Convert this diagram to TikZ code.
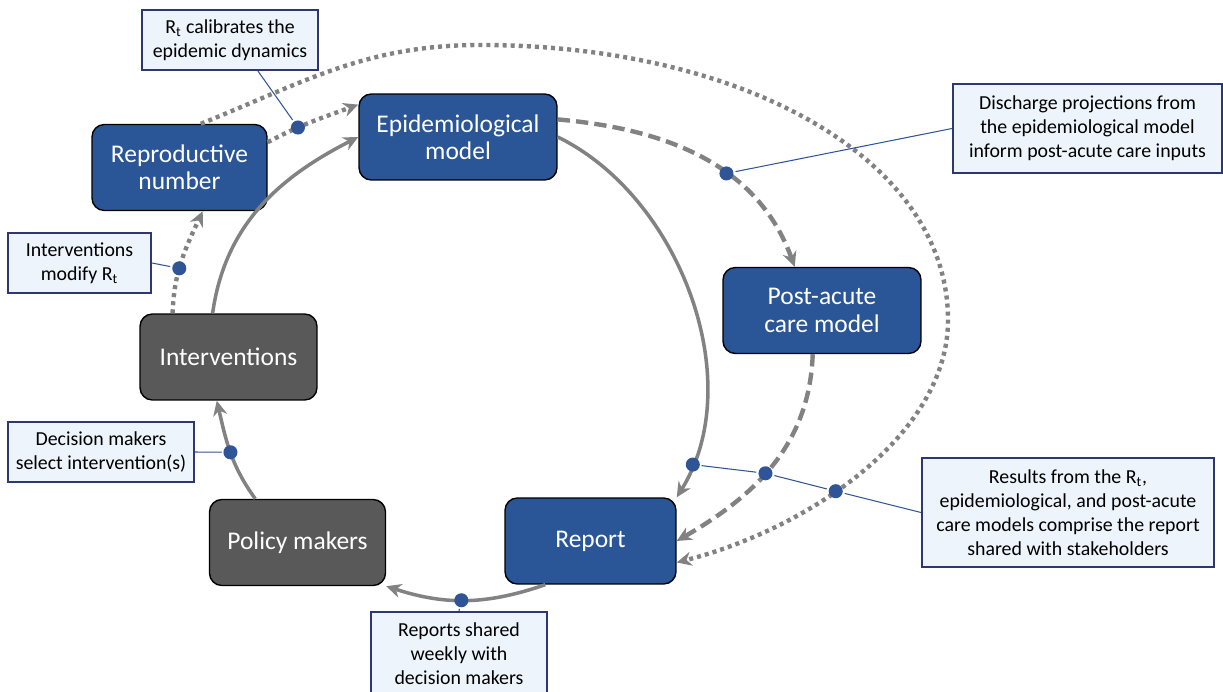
\documentclass[tikz,border=0pt]{standalone}
\usepackage{fontspec}
\setmainfont{Carlito}
\usepackage{tikz}
\usetikzlibrary{arrows.meta}
\definecolor{boxblue}{HTML}{2A5597}
\definecolor{boxgray}{HTML}{595959}
\definecolor{flowgray}{HTML}{828282}
\definecolor{notefill}{HTML}{EDF4FB}
\definecolor{noteline}{HTML}{2E3770}
\definecolor{pinblue}{HTML}{2F5597}

\begin{document}
\begin{tikzpicture}[x=0.02cm, y=0.02cm,
  model/.style={draw=black, line width=0.8pt, rounded corners=7pt, text=white, align=center,
    font=\fontsize{14.5}{15.5}\selectfont, minimum height=1.72cm, inner sep=0pt},
  bluebox/.style={model, fill=boxblue},
  graybox/.style={model, fill=boxgray},
  notebox/.style={draw=noteline, fill=notefill, line width=1.1pt, align=center,
    font=\fontsize{11.3}{13.6}\selectfont, inner sep=0pt},
  flowline/.style={draw=flowgray, line width=2pt, -{Stealth[length=8.5pt,width=8pt]}},
  flowdash/.style={flowline, line width=2.5pt, dash pattern=on 7pt off 3.5pt},
  flowdot/.style={flowline, line width=2.5pt, dash pattern=on 2.3pt off 2.3pt},
  calldot/.style={circle, fill=pinblue, minimum size=8pt, inner sep=0pt},
  pinline/.style={draw=pinblue, line width=0.6pt}]

\useasboundingbox (0,0) rectangle (1223,-692);
\clip (0,0) rectangle (1223,-692);

\node[bluebox, minimum width=3.5cm] (rep) at (179.5,-167.5) {Reproductive\\number};
\node[bluebox, minimum width=3.96cm] (epi) at (458,-137) {Epidemiological\\model};
\node[bluebox, minimum width=3.96cm] (post) at (822,-310.5) {Post-acute\\care model};
\node[bluebox, minimum width=3.42cm] (report) at (590.5,-541) {Report};
\node[graybox, minimum width=3.52cm] (policy) at (297.5,-542.5) {Policy makers};
\node[graybox, minimum width=3.54cm] (interv) at (228.5,-357) {Interventions};

\node[notebox, minimum width=3.52cm, minimum height=1.2cm] (rtbox) at (230,-40) {R\textsubscript{t} calibrates the\\epidemic dynamics};
\node[notebox, minimum width=5.38cm, minimum height=1.78cm] (disbox) at (1087.5,-128.5) {Discharge projections from\\the epidemiological model\\inform post-acute care inputs};
\node[notebox, minimum width=5.84cm, minimum height=2.18cm] (resbox) at (1068,-512.5) {Results from the R\textsubscript{t},\\epidemiological, and post-acute\\care models comprise the report\\shared with stakeholders};
\node[notebox, minimum width=2.86cm, minimum height=1.2cm] (imbox) at (79.5,-263) {Interventions\\modify R\textsubscript{t}};
\node[notebox, minimum width=3.72cm, minimum height=1.2cm] (dmbox) at (101,-452) {Decision makers\\select intervention(s)};
\node[notebox, minimum width=3.52cm, minimum height=1.68cm] (rsbox) at (459,-654) {Reports shared\\weekly with\\decision makers};

\coordinate (loopT) at (480,-45);
\coordinate (loopR) at (948,-320);

\draw[flowline] (epi.east) to[out=-26,in=58,looseness=.92] node[calldot,pos=.91] (pa) {} (report.north east);
\draw[flowline] (report.-136) to[out=-161,in=-18] node[calldot,pos=.53] (pb) {} (policy.south east);
\draw[flowline] (policy.134) to[out=126,in=-77] node[calldot,pos=.5] (pc) {} (interv.-105);
\draw[flowline] (interv.110) to[out=82,in=-153] (epi.west);

\draw[flowdash] (epi.10) to[out=-5,in=110] node[calldot,pos=.6] (pe) {} (post.122);
\draw[flowdash] (post.-102) to[out=-92,in=30] node[calldot,pos=.55] (pf) {} (report.east);

\draw[flowdot] (rep.16) to[out=28,in=-160] node[calldot,pos=.33] (pg) {} (epi.162);
\draw[flowdot] (interv.142) to[out=88,in=-115] node[calldot,pos=.42] (ph) {} (rep.-62);
\draw[flowdot] (rep.64) to[out=22,in=180] (loopT)
  .. controls (745,-45) and (948,-160) .. (loopR)
  .. controls (948,-435) and (808,-529) .. node[calldot,pos=.58] (pi) {} (report.-14);

\draw[pinline] (rtbox.-48) -- (pg);
\draw[pinline] (disbox.west) -- (pe);
\draw[pinline] (resbox.west) -- (pi) -- (pf) -- (pa);
\draw[pinline] (imbox.east) -- (ph);
\draw[pinline] (dmbox.east) -- (pc);
\draw[pinline] (rsbox.north) -- (pb);

\end{tikzpicture}
\end{document}
